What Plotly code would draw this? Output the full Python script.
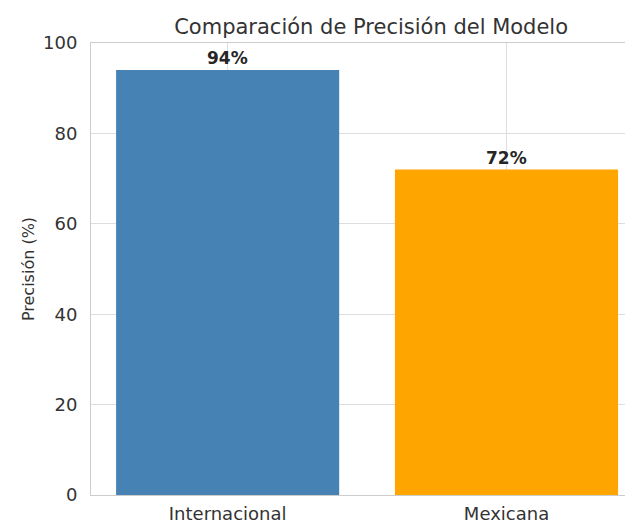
import plotly.graph_objects as go

categories = ["Internacional", "Mexicana"]
precision = [94, 72]
colors = ["#4682B4", "#FFA500"]
y_ticks = [0, 20, 40, 60, 80, 100]

fig = go.Figure()
fig.add_trace(go.Bar(
    x=[0, 1], y=precision, marker=dict(color=colors, line=dict(width=0)),
    width=0.8, hoverinfo="skip",
))
for i, v in enumerate(precision):
    fig.add_annotation(x=i, y=v, text=f"<b>{v}%</b>", showarrow=False,
                       yanchor="bottom", yshift=0,
                       font=dict(family="DejaVu Sans", size=17, color="#262626"))

fig.update_layout(
    width=625, height=516,
    margin=dict(l=83, r=0, t=35, b=27),
    paper_bgcolor="white", plot_bgcolor="white",
    showlegend=False,
    title=dict(text="Comparación de Precisión del Modelo", x=0.581, xref="container",
               xanchor="center", y=0.963, yanchor="middle",
               font=dict(family="DejaVu Sans", size=21, color="#333333")),
    font=dict(family="DejaVu Sans", color="#333333"),
)
fig.update_xaxes(range=[-0.49, 1.45], tickvals=[0, 1], ticktext=categories,
                 showgrid=True, gridcolor="#dedede", gridwidth=1,
                 showline=True, linecolor="#cccccc", mirror=True, zeroline=False,
                 ticks="", ticklabelstandoff=2, tickfont=dict(size=18, color="#333333"))
fig.update_yaxes(range=[0, 100], tickvals=y_ticks,
                 showgrid=True, gridcolor="#dedede", gridwidth=1,
                 showline=True, linecolor="#cccccc", mirror=True, zeroline=False,
                 ticks="", ticklabelstandoff=9,
                 tickfont=dict(size=18, color="#333333"),
                 title=dict(text="Precisión (%)", standoff=4,
                            font=dict(size=16, color="#333333")))

fig.write_html("out.html")
